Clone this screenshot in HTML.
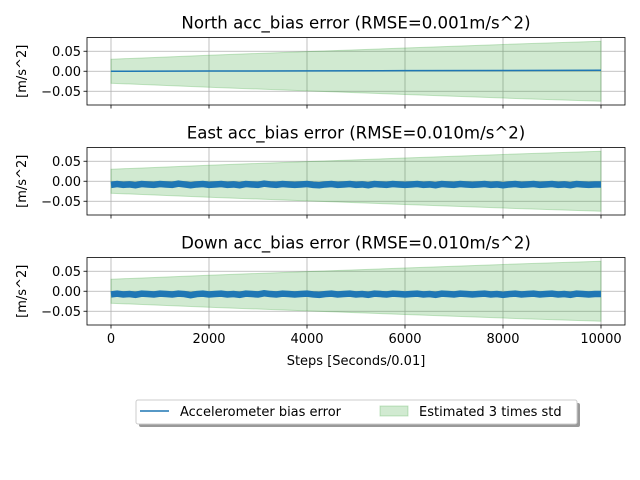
<!DOCTYPE html>
<html><head><meta charset="utf-8"><style>
body{margin:0;background:#fff}
svg{display:block;font-family:"DejaVu Sans","Liberation Sans",sans-serif}
</style></head><body>
<svg id="chart" width="640" height="480" xmlns="http://www.w3.org/2000/svg"></svg>
<script>
const xTicks=[0,2000,4000,6000,8000,10000];
const yTicks=[0.05,0.00,-0.05];
const yTickLabels=["0.05","0.00","\u22120.05"];
const bandSteps=[0,2000,4000,6000,8000,10000];
const band3std=[0.030,0.040,0.049,0.058,0.067,0.075];
const northSteps=[0,2000,4000,6000,8000,10000];
const northErr=[0.000,0.0005,0.001,0.0015,0.002,0.0025];
const eastErr=[-0.009,-0.007,-0.009,-0.008,-0.010,-0.007,-0.008,-0.009,-0.007,-0.008,-0.009,-0.006,-0.008,-0.010,-0.008,-0.007,-0.009,-0.008,-0.007,-0.009,-0.008,-0.010,-0.007,-0.008,-0.009,-0.006,-0.008,-0.009,-0.007,-0.008,-0.009,-0.008,-0.007,-0.009,-0.010,-0.008,-0.007,-0.009,-0.008,-0.007,-0.009,-0.008,-0.010,-0.007,-0.008,-0.009,-0.007,-0.008,-0.009,-0.008,-0.007,-0.009,-0.008,-0.010,-0.007,-0.008,-0.009,-0.007,-0.008,-0.009,-0.008,-0.007,-0.009,-0.008,-0.010,-0.008,-0.007,-0.009,-0.008,-0.007,-0.009,-0.008,-0.007,-0.009,-0.008,-0.010,-0.007,-0.008,-0.009,-0.008,-0.008];
const downErr=[-0.008,-0.006,-0.008,-0.007,-0.009,-0.006,-0.007,-0.008,-0.006,-0.007,-0.008,-0.006,-0.007,-0.010,-0.007,-0.006,-0.008,-0.007,-0.006,-0.008,-0.007,-0.009,-0.006,-0.007,-0.008,-0.005,-0.007,-0.008,-0.006,-0.007,-0.008,-0.007,-0.006,-0.008,-0.009,-0.007,-0.006,-0.008,-0.007,-0.006,-0.008,-0.007,-0.009,-0.006,-0.007,-0.008,-0.006,-0.007,-0.008,-0.007,-0.006,-0.008,-0.007,-0.009,-0.006,-0.007,-0.008,-0.006,-0.007,-0.008,-0.007,-0.006,-0.008,-0.007,-0.009,-0.007,-0.006,-0.008,-0.007,-0.006,-0.008,-0.007,-0.006,-0.008,-0.007,-0.009,-0.006,-0.007,-0.008,-0.007,-0.007];
const titles=["North acc_bias error (RMSE=0.001m/s^2)","East acc_bias error (RMSE=0.010m/s^2)","Down acc_bias error (RMSE=0.010m/s^2)"];
const panelNames=["north","east","down"];

const NS="http://www.w3.org/2000/svg";
const svg=document.getElementById('chart');
function mk(tag,attrs,parent){const e=document.createElementNS(NS,tag);for(const k in attrs)e.setAttribute(k,attrs[k]);(parent||svg).appendChild(e);return e;}
const L=87,R=625,axH=67.5;
const tops=[37.5,147.5,257.5];
const xS=v=>111+v*(601-111)/10000;
function seriesFor(i){
  if(i===0)return northSteps.map((s,j)=>[s,northErr[j]]);
  const arr=i===1?eastErr:downErr;
  return arr.map((v,j)=>[j*10000/(arr.length-1),v]);
}
for(let i=0;i<3;i++){
  const top=tops[i],zero=top+axH/2;
  const yS=v=>zero-v*400;
  const g=mk('g',{});
  
  
  xTicks.forEach(t=>{const l=mk('line',{x1:xS(t),x2:xS(t),y1:top,y2:top+axH,stroke:'#b0b0b0','stroke-width':0.8},g);});
  yTicks.forEach(t=>{const l=mk('line',{x1:L,x2:R,y1:yS(t),y2:yS(t),stroke:'#b0b0b0','stroke-width':0.8},g);});
  let pts=bandSteps.map((s,j)=>xS(s)+','+yS(band3std[j]));
  pts=pts.concat(bandSteps.slice().reverse().map((s,j)=>xS(s)+','+yS(-band3std[bandSteps.length-1-j])));
  const b=mk('polygon',{points:pts.join(' '),fill:'#2ca02c','fill-opacity':0.22,stroke:'#2ca02c','stroke-opacity':0.25},g);
  
  
  const ser=seriesFor(i);
  const ln=mk('polyline',{points:ser.map(p=>xS(p[0])+','+yS(p[1])).join(' '),fill:'none',stroke:'#1f77b4','stroke-width':i===0?1.5:6.5,'stroke-linejoin':'miter'},g);
  
  
  const fr=mk('rect',{x:L,y:top,width:R-L,height:axH,fill:'none',stroke:'#000','stroke-width':0.8},g);
  
  
  yTicks.forEach((t,j)=>{
    mk('line',{x1:L-3.5,x2:L,y1:yS(t),y2:yS(t),stroke:'#000','stroke-width':0.8},g);
    const tx=mk('text',{x:L-6,y:yS(t)+4.5,'text-anchor':'end','font-size':13},g);tx.textContent=yTickLabels[j];
    
  });
  xTicks.forEach(t=>{
    mk('line',{x1:xS(t),x2:xS(t),y1:top+axH,y2:top+axH+3.5,stroke:'#000','stroke-width':0.8},g);
    if(i===2){const tx=mk('text',{x:xS(t),y:top+axH+18,'text-anchor':'middle','font-size':13},g);tx.textContent=String(t);
      }
  });
  const yl=mk('text',{x:0,y:0,transform:`translate(26,${zero}) rotate(-90)`,'text-anchor':'middle','font-size':13},g);
  yl.textContent='[m/s^2]';
  const ti=mk('text',{x:356,y:top-9,'text-anchor':'middle','font-size':16.6},g);
  ti.textContent=titles[i];
}
const xl=mk('text',{x:356,y:365,'text-anchor':'middle','font-size':13});
xl.textContent='Steps [Seconds/0.01]';


const lg=mk('g',{});


mk('rect',{x:139,y:403,width:441,height:24,rx:2,fill:'#999'},lg);
mk('rect',{x:136,y:400,width:441,height:24,rx:2,fill:'#fff',stroke:'#ccc','stroke-width':1},lg);
const e1=mk('g',{},lg);


mk('line',{x1:140,x2:169,y1:411,y2:411,stroke:'#1f77b4','stroke-width':1.5},e1);
const t1=mk('text',{x:180,y:416,'font-size':13},e1);t1.textContent='Accelerometer bias error';
const e2=mk('g',{},lg);


mk('rect',{x:380,y:406,width:28,height:10,fill:'#2ca02c','fill-opacity':0.22,stroke:'#2ca02c','stroke-opacity':0.25},e2);
const t2=mk('text',{x:419,y:416,'font-size':13},e2);t2.textContent='Estimated 3 times std';
</script>
</body></html>
